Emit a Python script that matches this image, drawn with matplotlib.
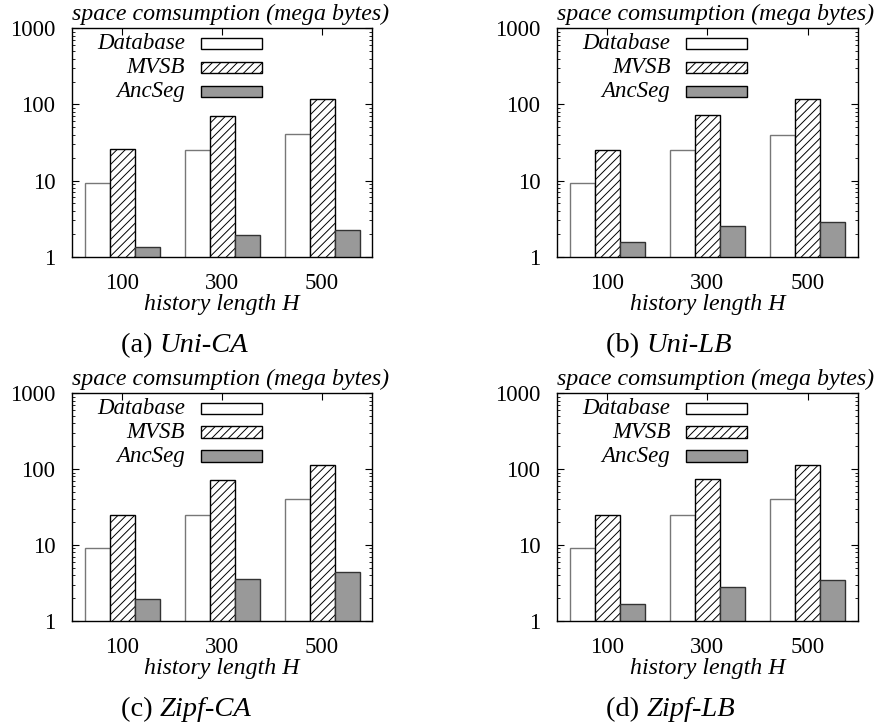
import matplotlib
matplotlib.use("Agg")
import matplotlib.pyplot as plt
import matplotlib.ticker as mticker
from matplotlib.patches import Rectangle
import numpy as np

plt.rcParams["font.family"] = ["Liberation Serif", "DejaVu Serif"]
plt.rcParams["hatch.linewidth"] = 0.7

history_lengths = ["100", "300", "500"]
series_names = ["Database", "MVSB", "AncSeg"]

panel_letters = ["(a)", "(b)", "(c)", "(d)"]
panel_names = ["Uni-CA", "Uni-LB", "Zipf-CA", "Zipf-LB"]

database_mb = [
    [9.3, 25.0, 40.5],
    [9.3, 25.0, 40.0],
    [9.2, 24.7, 40.0],
    [9.2, 24.7, 40.0],
]
mvsb_mb = [
    [26.0, 71.0, 118.0],
    [25.0, 72.0, 118.0],
    [24.6, 71.0, 114.0],
    [24.6, 73.0, 114.0],
]
ancseg_mb = [
    [1.33, 1.95, 2.24],
    [1.55, 2.5, 2.86],
    [1.95, 3.5, 4.35],
    [1.64, 2.8, 3.4],
]

_FACE = ["white", "white", "#999999"]
_EDGE = ["#777777", "black", "#333333"]
_HATCH = [None, "////", None]
_LEGEND_EDGE = ["black", "black", "black"]

W, H = 877, 726
# axes boxes in pixels: left, top, width, height
_BOXES = [
    (72, 28.3, 300, 228.4),
    (557, 28.3, 300.7, 228.4),
    (72, 393.3, 300, 227.4),
    (557, 393.3, 300.7, 227.4),
]
_CAPTION_X = [121, 606, 121, 606]

FS = 16.5
FS_TITLE = 17.2
FS_CAPTION = 20.5

fig = plt.figure(figsize=(W / 100, H / 100), dpi=100)

for i in range(4):
    left, top, w, h = _BOXES[i]
    ax = fig.add_axes([left / W, 1 - (top + h) / H, w / W, h / H])
    x = np.arange(len(history_lengths))
    values = [database_mb[i], mvsb_mb[i], ancseg_mb[i]]
    width = 0.25
    for k, vals in enumerate(values):
        ax.bar(x + (k - 1) * width, vals, width, bottom=1e-3,
               facecolor=_FACE[k], edgecolor=_EDGE[k], hatch=_HATCH[k],
               linewidth=1.0, zorder=2)
    ax.set_yscale("log")
    ax.set_ylim(1, 1000)
    ax.set_xlim(-0.5, 2.5)
    ax.set_xticks(x)
    ax.set_xticklabels(history_lengths, fontsize=FS)
    ax.yaxis.set_major_locator(mticker.FixedLocator([1, 10, 100, 1000]))
    ax.yaxis.set_major_formatter(mticker.FormatStrFormatter("%d"))
    ax.yaxis.set_minor_locator(mticker.LogLocator(base=10, subs=np.arange(2, 10)))
    ax.yaxis.set_minor_formatter(mticker.NullFormatter())
    ax.tick_params(axis="y", which="major", direction="in", length=5, width=0.8,
                   left=True, right=True, labelsize=FS, pad=12)
    ax.tick_params(axis="y", which="minor", direction="in", length=2.5, width=0.6,
                   left=True, right=True)
    ax.tick_params(axis="x", which="major", direction="in", length=5, width=0.8,
                   top=True, bottom=True, labelsize=FS, pad=12)
    for sp in ax.spines.values():
        sp.set_linewidth(1.0)
        sp.set_zorder(3)

    ax.set_xlabel("history length H", fontsize=FS_TITLE, style="italic", labelpad=0)
    ax.text(0, 1 + 8 / h, "space comsumption (mega bytes)", transform=ax.transAxes,
            ha="left", va="baseline", fontsize=FS_TITLE, style="italic")

    # legend: right-aligned labels followed by sample boxes
    row_y = [0.933, 0.829, 0.723]
    box_h = 11.7 / h
    for k, name in enumerate(series_names):
        ax.text(0.377, row_y[k], name, transform=ax.transAxes, ha="right",
                va="center", fontsize=FS, style="italic")
        ax.add_patch(Rectangle((0.43, row_y[k] - box_h / 2), 0.203, box_h,
                               transform=ax.transAxes, facecolor=_FACE[k],
                               edgecolor=_LEGEND_EDGE[k], hatch=_HATCH[k],
                               linewidth=1.0, zorder=4))

    # caption below the panel
    cap_y = 1 - (top + h + 89) / H
    t1 = fig.text(_CAPTION_X[i] / W, cap_y, panel_letters[i] + " ", ha="left",
                  va="center", fontsize=FS_CAPTION)
    ax.annotate(panel_names[i], xy=(1, 0), xycoords=t1, ha="left", va="bottom",
                fontsize=FS_CAPTION, style="italic", annotation_clip=False)

fig.savefig("out.png", dpi=100)
